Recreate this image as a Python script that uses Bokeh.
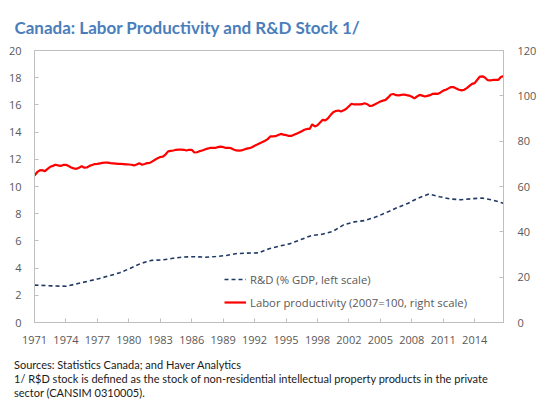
import numpy as np
from bokeh.plotting import figure
from bokeh.layouts import column
from bokeh.models import (Range1d, LinearAxis, Title, Legend, LegendItem,
                          ColumnDataSource, FixedTicker, Div)
from bokeh.embed import file_html
from bokeh.resources import INLINE

# ---------------- data ----------------
quarters = [f"{y}Q{q}" for y in range(1971, 2016) for q in range(1, 5)]

# Labor productivity, 2007=100 (right scale), quarterly 1971Q1-2015Q4
labor_productivity = [
    64.8, 66.3, 67.1, 67.2,   66.8, 67.8, 68.7, 69.1,   69.6, 69.3, 69.1, 69.5,
    69.6, 69.0, 68.4, 68.0,   67.8, 68.3, 69.0, 68.3,   68.4, 69.1, 69.5, 69.9,
    70.0, 70.2, 70.4, 70.6,   70.5, 70.3, 70.2, 70.1,   70.0, 70.0, 69.9, 69.8,
    69.7, 69.6, 69.3, 69.7,   70.3, 69.6, 69.9, 70.3,   70.4, 71.1, 71.8, 72.5,
    73.0, 73.2, 74.1, 75.5,   75.7, 75.9, 76.2, 76.3,   76.3, 76.2, 75.9, 76.2,
    76.2, 75.0, 75.1, 75.6,   75.9, 76.3, 76.7, 77.0,   77.0, 77.0, 77.4, 77.6,
    77.4, 77.0, 77.1, 76.9,   76.3, 75.9, 75.8, 75.9,   76.3, 76.7, 76.9, 77.3,
    78.0, 78.5, 79.1, 79.6,   80.2, 80.9, 82.1, 82.1,   82.2, 82.7, 83.2, 82.9,
    82.7, 82.3, 82.3, 82.8,   83.3, 83.8, 84.4, 85.0,   85.4, 85.4, 87.4, 86.5,
    87.0, 88.2, 89.4, 89.2,   90.1, 91.5, 92.8, 93.3,   93.5, 93.1, 93.6, 94.3,
    95.4, 96.5, 96.2, 96.2,   96.2, 96.3, 96.7, 96.3,   95.5, 95.7, 96.3, 96.9,
    97.5, 97.9, 98.2, 99.3,   100.6, 100.8, 100.3, 100.2, 100.4, 100.6, 100.3, 100.1,
    99.6, 98.9, 99.7, 100.4,  100.1, 99.7, 100.0, 100.3, 100.9, 101.0, 100.9, 101.5,
    102.3, 102.7, 103.3, 103.9, 103.8, 103.2, 102.7, 102.4, 102.7, 103.4, 104.4, 105.3,
    105.6, 107.1, 108.5, 108.6, 108.0, 106.9, 106.8, 107.0, 107.0, 107.0, 108.3, 108.7,
]

# R&D stock, % of GDP (left scale), annual 1971-2015
rd_years = list(range(1971, 2016))
rd_stock = [
    2.75, 2.72, 2.68, 2.67, 2.85, 3.03, 3.22, 3.43, 3.66, 3.99,
    4.35, 4.57, 4.60, 4.72, 4.82, 4.84, 4.80, 4.85, 4.93, 5.07,
    5.10, 5.12, 5.42, 5.62, 5.80, 6.10, 6.40, 6.49, 6.70, 7.18,
    7.40, 7.50, 7.75, 8.08, 8.44, 8.75, 9.15, 9.45, 9.25, 9.08,
    9.03, 9.10, 9.15, 9.00, 8.77,
]

x_tick_labels = ["1971", "1974", "1977", "1980", "1983", "1986", "1989", "1992",
                 "1995", "1998", "2002", "2005", "2008", "2011", "2014"]
left_ticks = [0, 2, 4, 6, 8, 10, 12, 14, 16, 18, 20]
right_ticks = [0, 20, 40, 60, 80, 100, 120]

title_text = "Canada: Labor Productivity and R&D Stock 1/"
notes = [
    "Sources: Statistics Canada; and Haver Analytics",
    "1/ R$D stock is defined as the stock of non-residential intellectual property products in the private",
    "sector (CANSIM 0310005).",
]

# ---------------- figure ----------------
n_q = len(quarters)
x_q = np.arange(n_q)
x_rd = np.linspace(0, n_q - 1, len(rd_stock))

AX = "#BFBFBF"
TXT = "#595959"

p = figure(width=539, height=358, output_backend="svg", toolbar_location=None,
           x_range=Range1d(0, n_q - 1), y_range=Range1d(0, 20),
           min_border_left=34, min_border_right=33, min_border_top=50,
           min_border_bottom=36)
p.extra_y_ranges = {"right": Range1d(0, 120)}
p.grid.visible = False
p.outline_line_color = AX
p.background_fill_color = "white"
p.border_fill_color = "white"

src_rd = ColumnDataSource(dict(x=x_rd, y=rd_stock, year=rd_years))
src_lp = ColumnDataSource(dict(x=x_q, y=labor_productivity, q=quarters))

r_rd = p.line("x", "y", source=src_rd, line_color="#1F3864", line_width=1.6,
              line_dash="4 3")
r_lp = p.line("x", "y", source=src_lp, y_range_name="right",
              line_color="#FF0000", line_width=2.2)

# x axis
tick_pos = [i * 12 for i in range(len(x_tick_labels))]
xa = p.xaxis[0]
xa.ticker = FixedTicker(ticks=tick_pos)
xa.major_label_overrides = {t: lab for t, lab in zip(tick_pos, x_tick_labels)}

# left axis
ya = p.yaxis[0]
ya.ticker = FixedTicker(ticks=left_ticks)

# right axis
ra = LinearAxis(y_range_name="right", ticker=FixedTicker(ticks=right_ticks))
p.add_layout(ra, "right")

for ax in [xa, ya, ra]:
    ax.axis_line_color = AX
    ax.major_tick_line_color = AX
    ax.major_tick_in = 4
    ax.major_tick_out = 0
    ax.minor_tick_line_color = None
    ax.major_label_text_font = "Open Sans"
    ax.major_label_text_font_size = "11px"
    ax.major_label_text_color = TXT
xa.major_label_standoff = 13
ya.major_label_standoff = 13
ra.major_label_standoff = 14

# legend
legend = Legend(items=[
    LegendItem(label="R&D (% GDP, left scale)", renderers=[r_rd]),
    LegendItem(label="Labor productivity (2007=100, right scale)", renderers=[r_lp]),
], location=(190, 10))
legend.background_fill_alpha = 0
legend.border_line_alpha = 0
legend.padding = 0
legend.margin = 0
legend.spacing = 3
legend.glyph_width = 22
legend.glyph_height = 20
legend.label_height = 20
legend.label_standoff = 4
legend.label_text_font = "Open Sans"
legend.label_text_font_size = "11.3px"
legend.label_text_color = TXT
p.add_layout(legend)

# title
p.title = Title(text=title_text, align="left", offset=-20, standoff=26,
                text_font="Lato", text_font_size="17px", text_font_style="bold",
                text_color="#4A7EBB")

# notes below the chart
notes_div = Div(
    text="<br>".join(notes), width=539, height=46, margin=(0, 0, 0, 0),
    styles={"font-family": "Lato", "font-size": "11px", "line-height": "14px",
            "color": "#1a1a1a", "padding-left": "14px", "white-space": "nowrap"},
)

layout = column(p, notes_div, spacing=0)

open("out.html", "w").write(file_html(layout, INLINE))
